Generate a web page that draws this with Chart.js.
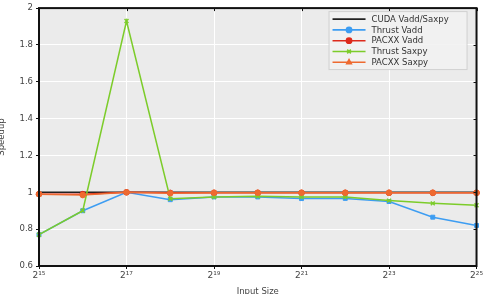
<!DOCTYPE html>
<html>
<head>
<meta charset="utf-8">
<style>
  html, body { margin: 0; padding: 0; background: #fff; }
  #wrap { width: 484px; height: 294px; position: relative; }
</style>
<script src="https://cdn.jsdelivr.net/npm/chart.js@4/dist/chart.umd.min.js"></script>
</head>
<body>
<div id="wrap"><canvas id="speedupChart"></canvas></div>
<script>
// input size exponents (2^n)
const exponents = [15, 16, 17, 18, 19, 20, 21, 22, 23, 24, 25];
const xTicks = [15, 17, 19, 21, 23, 25];
const yTicks = [0.6, 0.8, 1, 1.2, 1.4, 1.6, 1.8, 2];

const cudaVaddSaxpy = [1, 1, 1, 1, 1, 1, 1, 1, 1, 1, 1];
const thrustVadd    = [0.77, 0.9, 1.0, 0.96, 0.975, 0.975, 0.966, 0.967, 0.95, 0.865, 0.82];
const pacxxVadd     = [0.99, 0.99, 1.0, 0.997, 0.997, 0.997, 0.997, 0.997, 0.997, 0.997, 0.997];
const thrustSaxpy   = [0.77, 0.9, 1.93, 0.965, 0.975, 0.978, 0.975, 0.975, 0.955, 0.94, 0.93];
const pacxxSaxpy    = [0.99, 0.985, 1.0, 0.995, 0.998, 0.998, 0.998, 0.998, 0.998, 0.998, 0.998];

const SUP = { '0': '\u2070', '1': '\u00b9', '2': '\u00b2', '3': '\u00b3', '4': '\u2074',
              '5': '\u2075', '6': '\u2076', '7': '\u2077', '8': '\u2078', '9': '\u2079' };
const pow2 = n => '2' + String(n).split('').map(c => SUP[c]).join('');

const toPoints = arr => arr.map((v, i) => ({ x: exponents[i], y: v }));

// name, values, colour, marker (plot), marker (legend)
const series = [
    { label: 'CUDA Vadd/Saxpy', data: cudaVaddSaxpy, color: '#222222', point: false,    legendPoint: false },
    { label: 'Thrust Vadd',     data: thrustVadd,    color: '#3d9df2', point: 'rect',   legendPoint: 'circle' },
    { label: 'PACXX Vadd',      data: pacxxVadd,     color: '#dd2a1c', point: 'circle', legendPoint: 'circle' },
    { label: 'Thrust Saxpy',    data: thrustSaxpy,   color: '#7ccc2a', point: 'crossRot', legendPoint: 'crossRot' },
    { label: 'PACXX Saxpy',     data: pacxxSaxpy,    color: '#ee6a30', point: 'circle', legendPoint: 'triangle' }
];

// ==========================================
//      PLOT BACKGROUND + FRAME
// ==========================================
const framePlugin = {
    id: 'frame',
    beforeDraw(chart) {
        const { ctx, chartArea: a } = chart;
        ctx.save();
        ctx.fillStyle = '#ebebeb';
        ctx.fillRect(a.left, a.top, a.right - a.left, a.bottom - a.top);
        ctx.restore();
    },
    afterDraw(chart) {
        const { ctx, chartArea: a } = chart;
        ctx.save();
        ctx.strokeStyle = '#111';
        ctx.lineWidth = 2;
        ctx.strokeRect(a.left, a.top, a.right - a.left, a.bottom - a.top);
        // inner ticks on top and right edges
        ctx.lineWidth = 1;
        const xs = chart.scales.x, ys = chart.scales.y;
        xTicks.forEach(t => {
            const px = Math.round(xs.getPixelForValue(t)) + 0.5;
            ctx.beginPath(); ctx.moveTo(px, a.top); ctx.lineTo(px, a.top + 3); ctx.stroke();
        });
        yTicks.forEach(t => {
            const py = Math.round(ys.getPixelForValue(t)) + 0.5;
            ctx.beginPath(); ctx.moveTo(a.right, py); ctx.lineTo(a.right - 3, py); ctx.stroke();
        });
        ctx.restore();
    }
};

// ==========================================
//      LEGEND (top right, inside plot)
// ==========================================
const legendPlugin = {
    id: 'insideLegend',
    afterDraw(chart) {
        const { ctx, chartArea: a } = chart;
        const boxL = a.right - 148, boxT = a.top + 3, boxW = 138, boxH = 58;
        ctx.save();
        ctx.fillStyle = 'rgba(242,242,242,0.9)';
        ctx.strokeStyle = '#d0d0d0';
        ctx.lineWidth = 1;
        ctx.fillRect(boxL + 0.5, boxT + 0.5, boxW, boxH);
        ctx.strokeRect(boxL + 0.5, boxT + 0.5, boxW, boxH);
        ctx.font = '8.5px "DejaVu Sans"';
        ctx.textBaseline = 'middle';
        series.forEach((s, i) => {
            const y = boxT + 8 + i * 10.8;
            const x0 = boxL + 4, x1 = boxL + 37;
            ctx.strokeStyle = s.color;
            ctx.lineWidth = 1.6;
            ctx.beginPath(); ctx.moveTo(x0, y); ctx.lineTo(x1, y); ctx.stroke();
            if (s.legendPoint) {
                ctx.fillStyle = s.color;
                Chart.helpers.drawPoint(ctx, { pointStyle: s.legendPoint, radius: 2.6, borderWidth: 1.2 }, (x0 + x1) / 2, y);
            }
            ctx.fillStyle = '#333';
            ctx.fillText(s.label, boxL + 43, y + 0.5);
        });
        ctx.restore();
    }
};

document.addEventListener('DOMContentLoaded', () => {
    const ctx = document.getElementById('speedupChart');
    const n = series.length;

    new Chart(ctx, {
        type: 'line',
        data: {
            datasets: series.map((s, i) => ({
                label: s.label,
                data: toPoints(s.data),
                borderColor: s.color,
                backgroundColor: s.color,
                borderWidth: 1.5,
                pointStyle: s.point || 'circle',
                pointRadius: s.point ? 2.8 : 0,
                pointBorderWidth: s.point === 'crossRot' ? 1.4 : 1,
                tension: 0,
                clip: false,
                order: n - i
            }))
        },
        options: {
            responsive: true,
            maintainAspectRatio: false,
            animation: false,
            layout: { padding: { top: 7, right: 6, left: 0, bottom: 0 } },
            plugins: { legend: { display: false }, tooltip: { enabled: false } },
            scales: {
                x: {
                    type: 'linear', min: 15, max: 25,
                    afterBuildTicks: axis => { axis.ticks = xTicks.map(v => ({ value: v })); },
                    afterFit: axis => { axis.height = 28; },
                    grid: { color: '#ffffff', lineWidth: 1, tickColor: '#111', tickLength: 3 },
                    border: { display: false },
                    ticks: {
                        callback: v => pow2(v),
                        color: '#444', padding: 1, maxRotation: 0,
                        font: { family: 'DejaVu Sans', size: 9 }
                    },
                    title: {
                        display: true, text: 'Input Size', color: '#444',
                        font: { family: 'DejaVu Sans', size: 8.5 },
                        padding: { top: 0, bottom: -3 }
                    }
                },
                y: {
                    min: 0.6, max: 2,
                    afterBuildTicks: axis => { axis.ticks = yTicks.map(v => ({ value: v })); },
                    afterFit: axis => { axis.width = 39; },
                    grid: { color: '#ffffff', lineWidth: 1, tickColor: '#111', tickLength: 3 },
                    border: { display: false },
                    ticks: {
                        callback: v => String(+v.toFixed(1)),
                        color: '#444', padding: 3,
                        font: { family: 'DejaVu Sans', size: 8.5 }
                    },
                    title: {
                        display: true, text: 'Speedup', color: '#444',
                        font: { family: 'DejaVu Sans', size: 8.5 },
                        padding: { top: -3, bottom: 0 }
                    }
                }
            }
        },
        plugins: [framePlugin, legendPlugin]
    });
});
</script>
</body>
</html>
